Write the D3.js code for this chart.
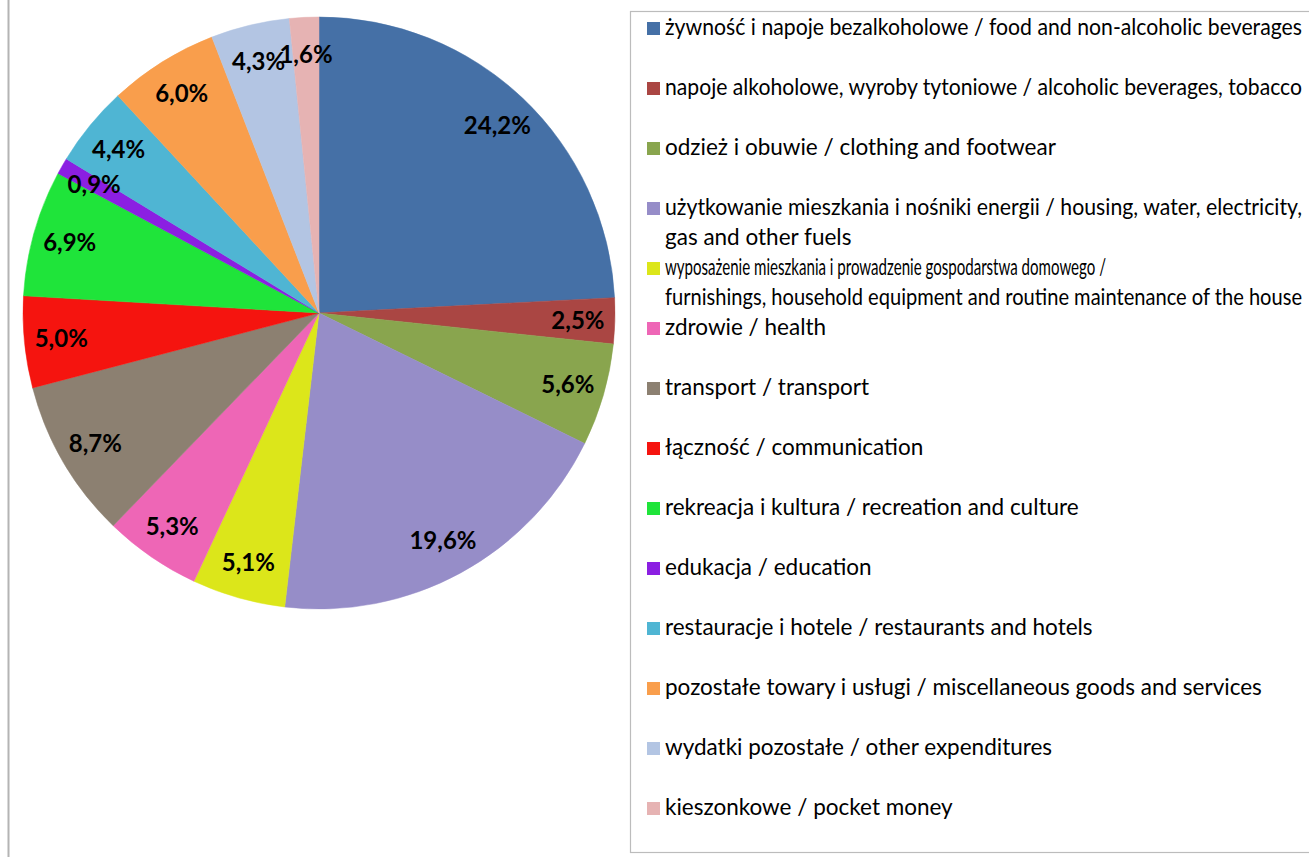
<!DOCTYPE html>
<html>
<head>
<meta charset="utf-8">
<script src="https://cdn.jsdelivr.net/npm/d3@7"></script>
<style>
  html, body { margin: 0; padding: 0; background: #fff; }
  svg { display: block; }
</style>
</head>
<body>
<svg id="chart" width="1309" height="857"></svg>
<script>
// ---- data ----
const categories = [
  "food", "alcohol", "clothing", "housing", "furnishings", "health", "transport",
  "communication", "recreation", "education", "restaurants", "misc", "other", "pocket"
];
const values = [24.2, 2.5, 5.6, 19.6, 5.1, 5.3, 8.7, 5.0, 6.9, 0.9, 4.4, 6.0, 4.3, 1.6];
const valueLabels = ["24,2%", "2,5%", "5,6%", "19,6%", "5,1%", "5,3%", "8,7%", "5,0%", "6,9%", "0,9%", "4,4%", "6,0%", "4,3%", "1,6%"];
const legendLines = [
  ["żywność i napoje bezalkoholowe / food and non-alcoholic beverages"],
  ["napoje alkoholowe, wyroby tytoniowe / alcoholic beverages, tobacco"],
  ["odzież i obuwie / clothing and footwear"],
  ["użytkowanie mieszkania i nośniki energii / housing, water, electricity,", "gas and other fuels"],
  ["wyposażenie mieszkania i prowadzenie gospodarstwa domowego /", "furnishings, household equipment and routine maintenance of the house"],
  ["zdrowie / health"],
  ["transport / transport"],
  ["łączność / communication"],
  ["rekreacja i kultura / recreation and culture"],
  ["edukacja / education"],
  ["restauracje i hotele / restaurants and hotels"],
  ["pozostałe towary i usługi / miscellaneous goods and services"],
  ["wydatki pozostałe / other expenditures"],
  ["kieszonkowe / pocket money"]
];
const colors = [
  "#4570A6", "#AA4643", "#89A54E", "#968DC8", "#DCE61A", "#EE66B6", "#8C8071",
  "#F5140F", "#1FE43A", "#8B1FE2", "#4FB5D3", "#F99E4C", "#B3C5E3", "#E6B3B3"
];

// ---- drawing ----
const svg = d3.select("#chart");
const W = 1309, H = 857;
const FONT = "Lato, 'Open Sans', 'Liberation Sans', sans-serif";

// left frame line
svg.append("line")
  .attr("x1", 8.5).attr("x2", 8.5).attr("y1", 0).attr("y2", H)
  .attr("stroke", "#b4b4b4").attr("stroke-width", 2);

const cx = 319, cy = 313, R = 296;
const color = d3.scaleOrdinal().domain(categories).range(colors);

const pie = d3.pie().sort(null).value(d => d.value);
const data = categories.map((c, i) => ({ key: c, value: values[i], label: valueLabels[i] }));
const arcs = pie(data);

const arc = d3.arc().innerRadius(0).outerRadius(R);
const labelArc = d3.arc().innerRadius(R * 0.875).outerRadius(R * 0.875);

const g = svg.append("g").attr("transform", `translate(${cx},${cy})`);
g.selectAll("path.slice")
  .data(arcs)
  .join("path")
  .attr("class", "slice")
  .attr("d", arc)
  .attr("fill", d => color(d.data.key))
  .attr("stroke", d => color(d.data.key))
  .attr("stroke-width", 0.5);

g.selectAll("text.val")
  .data(arcs)
  .join("text")
  .attr("class", "val")
  .attr("transform", d => `translate(${labelArc.centroid(d)})`)
  .attr("text-anchor", "middle")
  .attr("dy", "0.36em")
  .attr("font-family", FONT)
  .attr("font-weight", "bold")
  .attr("font-size", 24)
  .attr("fill", "#000")
  .text(d => d.data.label);

// legend
const legendX = 630, legendTop = 11, legendBottom = 852;
svg.append("rect")
  .attr("x", legendX + 0.5).attr("y", legendTop + 0.5)
  .attr("width", W - legendX + 10).attr("height", legendBottom - legendTop)
  .attr("fill", "none").attr("stroke", "#bcbcbc").attr("stroke-width", 1.2);

const rowY = d3.scalePoint().domain(categories).range([35, 815]);

const items = svg.append("g").selectAll("g.item")
  .data(categories)
  .join("g")
  .attr("class", "item")
  .attr("transform", c => `translate(0,${rowY(c)})`);

items.append("rect")
  .attr("x", 647).attr("y", -13)
  .attr("width", 13).attr("height", 13)
  .attr("fill", c => color(c));

const textX = 665, maxW = 637;
items.each(function(c, i) {
  const lines = legendLines[i];
  const sel = d3.select(this);
  lines.forEach((ln, j) => {
    const t = sel.append("text")
      .attr("x", textX).attr("y", j * 30)
      .attr("font-family", FONT)
      .attr("font-size", 22.5)
      .attr("fill", "#000")
      .text(ln);
    if (c === "furnishings" && j === 0) {
      t.attr("textLength", 441).attr("lengthAdjust", "spacingAndGlyphs");
    } else {
      const w = t.node().getComputedTextLength();
      if (w > maxW) t.attr("textLength", maxW).attr("lengthAdjust", "spacingAndGlyphs");
    }
  });
});
</script>
</body>
</html>
